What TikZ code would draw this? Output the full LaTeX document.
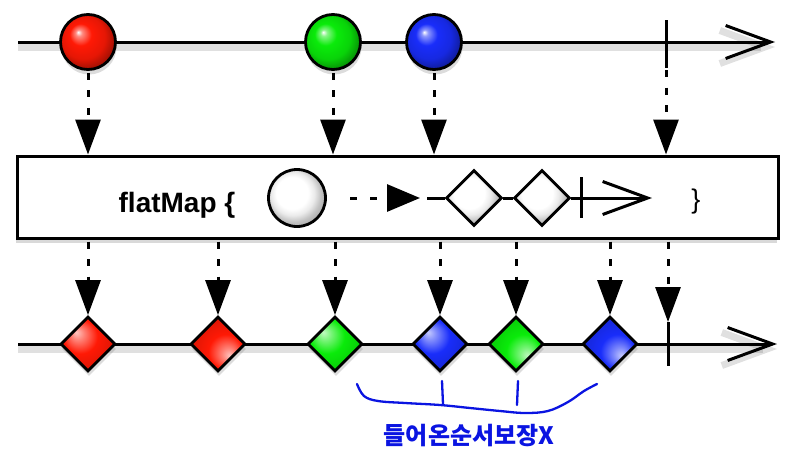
\documentclass[tikz,border=0pt]{standalone}
\usepackage{fontspec}
\setmainfont{Liberation Sans}
\newfontfamily\krfont{Noto Sans CJK KR}
\usetikzlibrary{arrows.meta,shapes.geometric,shadows,calc}
\definecolor{mred}{RGB}{255,25,5}
\definecolor{mgreen}{RGB}{10,235,10}
\definecolor{mblue}{RGB}{25,45,250}
\definecolor{pen}{RGB}{10,20,225}
\newcommand\mkmarble[2]{\pgfdeclareradialshading{#1}{\pgfpoint{-9bp}{9bp}}{%
  color(0bp)=(white); color(3bp)=(white!50!#2); color(10bp)=(#2); color(20bp)=(#2!90!black);
  color(27bp)=(#2!65!black); color(40bp)=(#2!50!black)}}
\newcommand\mkgem[4]{\pgfdeclareradialshading{#1}{\pgfpoint{#3}{#4}}{%
  color(0bp)=(white!75!#2); color(6bp)=(white!45!#2); color(16bp)=(#2); color(30bp)=(#2!85!black);
  color(45bp)=(#2!70!black)}}
\mkmarble{redm}{mred}
\mkmarble{greenm}{mgreen}
\mkmarble{bluem}{mblue}
\mkgem{redtl}{mred}{-11bp}{11bp}
\mkgem{redbr}{mred}{11bp}{-11bp}
\mkgem{greentl}{mgreen}{-11bp}{11bp}
\mkgem{greenbr}{mgreen}{11bp}{-11bp}
\mkgem{bluetl}{mblue}{-11bp}{11bp}
\mkgem{bluebr}{mblue}{11bp}{-11bp}
\pgfdeclareradialshading{whitem}{\pgfpoint{-6bp}{6bp}}{%
  rgb(0bp)=(1,1,1); rgb(14bp)=(1,1,1); rgb(19bp)=(0.92,0.92,0.92); rgb(24bp)=(0.76,0.76,0.76); rgb(30bp)=(0.64,0.64,0.64); rgb(50bp)=(0.6,0.6,0.6)}
\begin{document}
\begin{tikzpicture}[x=1pt,y=-1pt,
  axisline/.style={line width=3pt, preaction={draw=black, opacity=0.12, line width=7pt, transform canvas={yshift=-5pt}}},
  mshadow/.style={drop shadow={opacity=0.28, shadow xshift=1pt, shadow yshift=-5pt}},
  ball/.style={circle, draw, line width=2.8pt, minimum size=55pt, inner sep=0pt, shading=#1, mshadow},
  gem/.style={diamond, draw, line width=2.8pt, minimum size=55pt, inner sep=0pt, aspect=1, shading=#1, mshadow},
  wgem/.style={diamond, draw, line width=2.8pt, minimum size=56pt, inner sep=0pt, aspect=1, shading=whitem},
  wball/.style={circle, draw, line width=2.8pt, minimum size=57pt, inner sep=0pt, shading=whitem},
  dotarrow/.style={line width=3pt, dash pattern=on 7pt off 10.5pt, dash phase=-2pt, -{Triangle[width=25pt,length=35pt]}},
  tick/.style={line width=3pt},
  barb/.style={-{Straight Barb[length=45pt,width=33pt]}},
  penline/.style={draw=pen, line width=2.3pt, line cap=round, line join=round},
]
\useasboundingbox (0,0) rectangle (806,453);

% ---------- top timeline ----------
\coordinate (ts) at (18,42);
\coordinate (te) at (775,42);
\draw[axisline, barb] (ts) -- (te);
\coordinate (tka) at (666,20);
\coordinate (tkb) at (666,68);
\draw[tick] (tka) -- (tkb);
\node[ball=redm]   (r)  at (88,42)  {};
\node[ball=greenm] (g)  at (333,42) {};
\node[ball=bluem]  (b)  at (434,42) {};

% ---------- operator box ----------
\node[draw, line width=3pt, fill=white, minimum width=761pt, minimum height=82pt, inner sep=0pt,
      drop shadow={opacity=0.3, shadow xshift=-1pt, shadow yshift=-5pt}] (box) at (397.5,197) {};

\node[font=\bfseries\fontsize{28}{30}\selectfont, anchor=base] (fm) at (177,212) {flatMap \{};
\node[font=\fontsize{27}{29}\selectfont, anchor=base] (cb) at (696,208) {\}};

\node[wball] (ic) at (297,198) {};
\coordinate (da) at (350,198);
\coordinate (db) at (420,198);
\draw[line width=3pt, dash pattern=on 7pt off 13pt, -{Triangle[width=27pt,length=33pt]}] (da) -- (db);
\coordinate (lc) at (427,198);
\node[wgem] (w1) at (474,198) {};
\node[wgem] (w2) at (542,198) {};
\coordinate (ie) at (652,198);
\coordinate (ita) at (581,177);
\coordinate (itb) at (581,218);
\draw[line width=3pt] (lc) -- (w1.west);
\draw[line width=3pt] (w1.east) -- (w2.west);
\draw[line width=3pt, barb] (w2.east) -- (ie);
\draw[tick] (ita) -- (itb);

% ---------- top arrows ----------
\draw[dotarrow] (r.south) -- (r.south |- box.north);
\draw[dotarrow] (g.south) -- (g.south |- box.north);
\draw[dotarrow] (b.south) -- (b.south |- box.north);
\draw[dotarrow] (tkb) -- (tkb |- box.north);

% ---------- bottom timeline ----------
\coordinate (bs) at (18,344);
\coordinate (be) at (777,344);
\draw[axisline, barb] (bs) -- (be);
\coordinate (bka) at (668,322);
\coordinate (bkb) at (668,366);
\draw[tick] (bka) -- (bkb);
\node[gem=redtl]   (o1) at (88,344)  {};
\node[gem=redbr]   (o2) at (218,344) {};
\node[gem=greentl] (o3) at (335,344) {};
\node[gem=bluetl]  (o4) at (440,344) {};
\node[gem=greenbr] (o5) at (516,344) {};
\node[gem=bluebr]  (o6) at (610,344) {};

% ---------- bottom arrows ----------
\foreach \n in {o1,o2,o3,o4,o5,o6}{
  \draw[dotarrow] (box.south -| \n.north) -- (\n.north);
}
\draw[dotarrow] (box.south -| bka) -- (bka);

% ---------- handwritten note ----------
\draw[penline] plot[smooth, tension=0.6] coordinates {(357,384) (364,396) (378,401) (405,403) (440,405) (470,408) (500,411) (525,413) (548,411) (568,402) (584,391) (597,384)};
\coordinate (m1a) at (442,381);
\coordinate (m1b) at (443,404);
\coordinate (m2a) at (518,381);
\coordinate (m2b) at (517,405);
\draw[penline] (m1a) -- (m1b);
\draw[penline] (m2a) -- (m2b);
\node[text=pen, font=\krfont\bfseries\fontsize{24}{26}\selectfont] (note) at (469,436) {들어온순서보장X};
\end{tikzpicture}
\end{document}
